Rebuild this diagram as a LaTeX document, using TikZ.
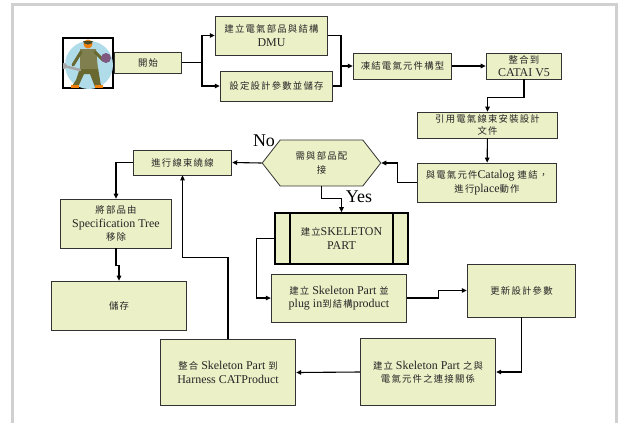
\documentclass[tikz,border=0pt]{standalone}
\usepackage{fontspec}
\setmainfont{Liberation Serif}
\newfontfamily\cjkfont[LetterSpace=13]{Noto Sans CJK TC}
\usetikzlibrary{positioning, shapes, arrows.meta, calc}
\definecolor{boxfill}{RGB}{235,240,198}
\definecolor{framegray}{RGB}{208,208,208}
\definecolor{skyblue}{RGB}{176,220,234}
\definecolor{overall}{RGB}{104,104,48}
\newcommand\zh[1]{{\cjkfont\fontsize{9.4}{13.5}\selectfont #1}}

\begin{document}
\begin{tikzpicture}[
   x=1bp, y=-1bp,
   every node/.style = {font=\fontsize{12}{13.5}\selectfont, text=black!85},
      flowBox/.style = {rectangle, draw=black!80, fill=boxfill, align=center, line width=0.8bp, inner sep=1bp},
      procBox/.style = {flowBox, line width=1.8bp, draw=black},
    decideBox/.style = {signal, signal to=west and east, signal pointer angle=104, draw=black!80, fill=boxfill, align=center, line width=0.8bp, inner sep=0bp},
     yesNo/.style    = {font=\fontsize{18}{18}\selectfont, text=black},
      myarrow/.style = {-{Triangle[length=5bp,width=4.5bp]}, line width=1.1bp}
]
\useasboundingbox (0,0) rectangle (620,423);
\draw[framegray, line width=3bp] (12.5,423) -- (12.5,4.5) -- (616,4.5) -- (616,423);

% worker clipart
\draw[fill=white, line width=1.5bp] (63,38) rectangle (113,88);
\begin{scope}
  \clip (63,38) rectangle (113,88);
  \fill[skyblue] (89,65) circle (24);
  \fill[overall] (80,68) -- (76,80) -- (72,86) -- (78,87) -- (84,74) -- (90,74) -- (95,87) -- (101,86) -- (98,68) -- cycle;
  \fill[overall!85] (80,49) -- (96,49) -- (98,69) -- (80,69) -- cycle;
  \draw[overall, line width=3bp, line cap=round] (81,52) -- (73,65);
  \draw[overall, line width=3bp, line cap=round] (95,52) -- (103,60);
  \draw[gray!70, line width=2.5bp, line cap=round] (64,66) -- (80,70);
  \fill[gray!70] (64,66) circle (3);
  \fill[violet!30!gray] (106,58) circle (5);
  \fill[orange!70!brown] (88,44) circle (4.5);
  \fill[overall!70!black] (83,41) arc (180:360:5 and -3.5) -- cycle;
  \fill[orange!80!brown] (71,85) rectangle (79,88);
  \fill[orange!80!brown] (95,85) rectangle (103,88);
\end{scope}

% top row
\node[flowBox, minimum width=68, minimum height=21] (start) at (148,62.5) {\zh{開始}};
\node[flowBox, minimum width=113, minimum height=39] (dmu) at (271.5,35.5) {\zh{建立電氣部品與結構}\\DMU};
\node[flowBox, minimum width=113, minimum height=30] (param) at (276.5,86) {\zh{設定設計參數並儲存}};
\node[flowBox, minimum width=99, minimum height=26] (freeze) at (402.5,66) {\zh{凍結電氣元件構型}};
\node[flowBox, minimum width=76, minimum height=26, inner sep=0bp] (catia) at (524,66) {\zh{整合到}\\CATAI V5};
\coordinate (split) at (202,62.5);
\coordinate (merge) at (341,66);

\draw[line width=1.1bp] (start) -- (split);
\draw[myarrow] (split) |- (dmu.west);
\draw[myarrow] (split) |- (param.west);
\draw[line width=1.1bp] (dmu.east) -| (merge);
\draw[line width=1.1bp] (param.east) -| (merge);
\draw[myarrow] (merge) -- (freeze.west);
\draw[myarrow] (freeze) -- (catia);

% right column
\node[flowBox, minimum width=141, minimum height=26, inner sep=0bp] (doc) at (487.5,125) {\zh{引用電氣線束安裝設計}\\[-1bp]\zh{文件}};
\node[flowBox, minimum width=140, minimum height=39] (place) at (487,182.5) {\zh{與電氣元件}Catalog \zh{連結，}\\\zh{進行}place\zh{動作}};
\node[decideBox, minimum width=119, minimum height=46] (decide) at (321.5,163) {\zh{需與部品配}\\\zh{接}};

\draw[myarrow] (catia.south) -- ++(0,18) -| (doc.north);
\draw[myarrow] (doc) -- (place);
\draw[myarrow] (place.west) -- ++(-19,0) |- (decide.east);

% left column
\node[flowBox, minimum width=99, minimum height=25] (wind) at (182.5,162.5) {\zh{進行線束繞線}};
\node[flowBox, minimum width=112, minimum height=49] (spec) at (116,223.5) {\zh{將部品由}\\Specification Tree\\\zh{移除}};
\node[flowBox, minimum width=136, minimum height=49] (save) at (119,305.5) {\zh{儲存}};

\draw[myarrow] (decide.west) -- (wind.east);
\node[yesNo] at (264,141) {No};
\draw[myarrow] (wind.west) -| (spec.north);
\draw[myarrow] (spec.south) -- ++(0,17) -| (save.north);

% skeleton part
\node[procBox, minimum width=133, minimum height=51] (skel) at (341.5,238.5) {\zh{建立}SKELETON\\PART};
\draw[line width=1.8bp] ([xshift=16bp]skel.north west) -- ([xshift=16bp]skel.south west);
\draw[line width=1.8bp] ([xshift=-16bp]skel.north east) -- ([xshift=-16bp]skel.south east);
\draw[myarrow] (decide.south) -- ++(0,12) -| (skel.north);
\node[yesNo] at (359,197) {Yes};

\node[flowBox, minimum width=136, minimum height=48] (plug) at (339,298) {\zh{建立} Skeleton Part \zh{並}\\plug in\zh{到結構}product};
\node[flowBox, minimum width=109, minimum height=53] (update) at (521.5,290.5) {\zh{更新設計參數}};
\node[flowBox, minimum width=136, minimum height=68] (link) at (428,372) {\zh{建立} Skeleton Part \zh{之與}\\\zh{電氣元件之連接關係}};
\node[flowBox, minimum width=136, minimum height=67] (harness) at (228,372.5) {\zh{整合} Skeleton Part \zh{到}\\Harness CATProduct};

\draw[myarrow] (skel.west) -- ++(-18,0) |- (plug.west);
\draw[myarrow] (plug.east) -- ++(31,0) |- (update.west);
\draw[myarrow] (update.south) |- (link.east);
\draw[myarrow] (link.west) -- (harness.east);
\draw[myarrow] (harness.north) -- ++(0,-81) -| (wind.south);

\end{tikzpicture}
\end{document}
